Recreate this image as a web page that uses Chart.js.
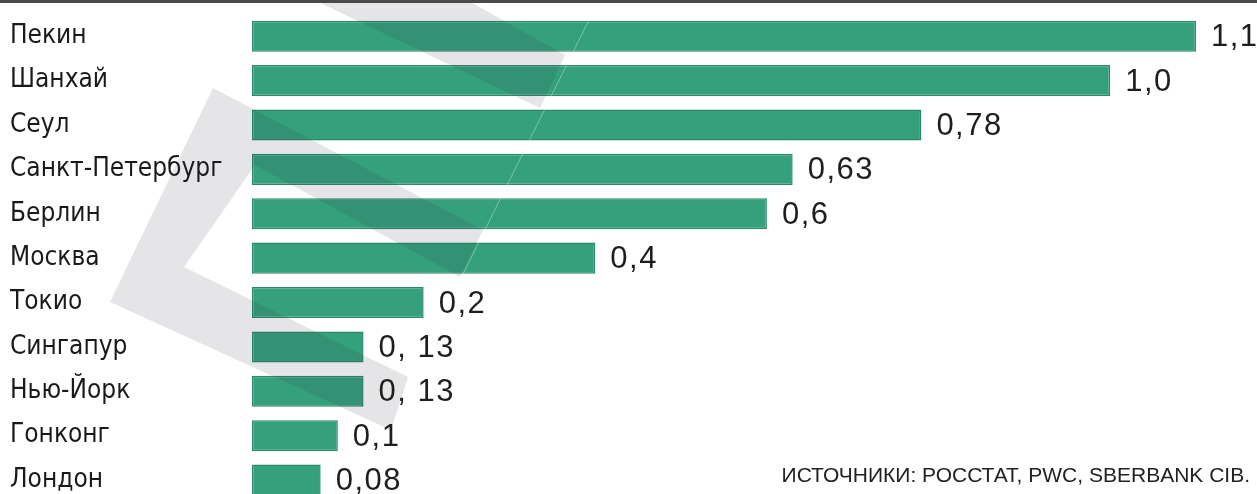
<!DOCTYPE html>
<html>
<head>
<meta charset="utf-8">
<script src="https://cdn.jsdelivr.net/npm/chart.js@4/dist/chart.umd.min.js"></script>
<style>
  html, body { margin: 0; padding: 0; background: #fff; overflow: hidden; }
  #wrap { position: relative; width: 1257px; height: 514px; }
  #topline { position: absolute; left: 0; top: 0; width: 1257px; height: 3px; background: #4a4a4a; }
  #source {
    position: absolute; right: 7px; top: 463px;
    font-family: "Liberation Sans", Arial, sans-serif; font-size: 21px;
    color: #222; white-space: nowrap;
  }
</style>
</head>
<body>
<div id="wrap">
  <canvas id="chart"></canvas>
  <div id="topline"></div>
  <div id="source">ИСТОЧНИКИ: РОССТАТ, PWC, SBERBANK CIB.</div>
</div>
<script>
  // cities and values (as printed next to the bars)
  const cities = ["Пекин", "Шанхай", "Сеул", "Санкт-Петербург", "Берлин", "Москва",
                  "Токио", "Сингапур", "Нью-Йорк", "Гонконг", "Лондон"];
  const values = [1.1, 1.0, 0.78, 0.63, 0.6, 0.4, 0.2, 0.13, 0.13, 0.1, 0.08];
  const valueLabels = ["1,1", "1,0", "0,78", "0,63", "0,6", "0,4", "0,2", "0, 13", "0, 13", "0,1", "0,08"];

  // grey watermark shapes over the bars
  const watermark = {
    id: "watermark",
    afterDatasetsDraw(chart) {
      const ctx = chart.ctx;
      const shapes = [
        [[314, 0], [467, 0], [565, 55], [540, 108]],
        [[213, 88], [483, 230], [460, 277], [255, 165], [184, 267], [408, 377], [391, 430], [110, 302]]
      ];
      ctx.save();
      ctx.fillStyle = "rgba(40,40,55,0.12)";
      shapes.forEach(pts => {
        ctx.beginPath();
        pts.forEach((p, i) => i ? ctx.lineTo(p[0], p[1]) : ctx.moveTo(p[0], p[1]));
        ctx.closePath();
        ctx.fill();
      });
      // faint light streak across the bars
      ctx.strokeStyle = "rgba(255,255,255,0.35)";
      ctx.lineWidth = 1;
      ctx.beginPath();
      ctx.moveTo(590, 18);
      ctx.lineTo(462, 276);
      ctx.stroke();
      ctx.restore();
    }
  };

  // value labels at the end of each bar
  const barValues = {
    id: "barValues",
    afterDraw(chart) {
      const ctx = chart.ctx;
      const meta = chart.getDatasetMeta(0);
      ctx.save();
      ctx.font = '31px "Liberation Sans", Arial, sans-serif';
      ctx.letterSpacing = "1.5px";
      ctx.fillStyle = "#1e1e1e";
      ctx.textAlign = "left";
      ctx.textBaseline = "alphabetic";
      meta.data.forEach((bar, i) => {
        ctx.fillText(valueLabels[i], bar.x + 15, bar.y + 10);
      });
      ctx.restore();
    }
  };

  new Chart(document.getElementById("chart"), {
    type: "bar",
    data: {
      labels: cities,
      datasets: [{
        data: values,
        backgroundColor: "#35a17c",
        borderColor: "#2b8a69",
        borderWidth: 1.5,
        borderSkipped: false,
        barPercentage: 0.7,
        categoryPercentage: 1
      }]
    },
    options: {
      indexAxis: "y",
      responsive: true,
      maintainAspectRatio: false,
      animation: false,
      layout: { padding: { left: 10, right: 61, top: 14, bottom: 0 } },
      plugins: { legend: { display: false }, tooltip: { enabled: false } },
      scales: {
        x: {
          min: 0, max: 1.1,
          display: false
        },
        y: {
          offset: true,
          grid: { display: false },
          border: { display: false },
          ticks: {
            crossAlign: "far",
            padding: 0,
            color: "#1a1a1a",
            font: { family: '"Liberation Sans Narrow", "DejaVu Sans Condensed", sans-serif', size: 26, lineHeight: 0.9 }
          },
          afterFit(scale) { scale.width = 242; }
        }
      }
    },
    plugins: [watermark, barValues]
  });
</script>
</body>
</html>
